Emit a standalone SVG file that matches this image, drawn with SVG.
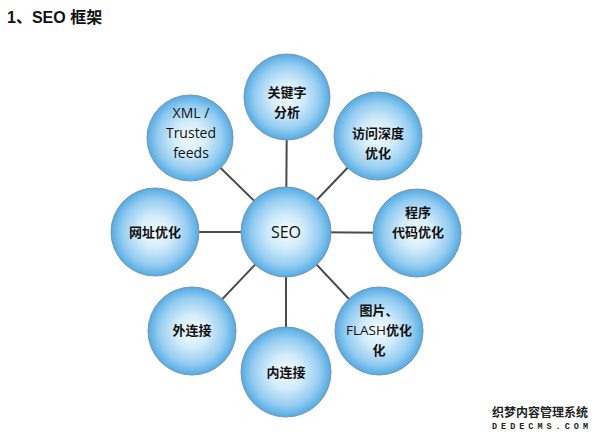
<svg xmlns="http://www.w3.org/2000/svg" width="600" height="440" viewBox="0 0 600 440">
  <defs>
    <radialGradient id="ball" cx="50%" cy="50%" r="50%">
      <stop offset="0" stop-color="#f4fbff"/>
      <stop offset="0.38" stop-color="#d2ecfa"/>
      <stop offset="0.75" stop-color="#95cdf1"/>
      <stop offset="0.93" stop-color="#66b5e8"/>
      <stop offset="1" stop-color="#56a9e2"/>
    </radialGradient>
  </defs>
  <style>
    .ball { fill: url(#ball); stroke: #7396b0; stroke-width: 1; }
    .conn line { stroke: #4a4a4a; stroke-width: 2; }
    .zh { font-family: "Noto Sans CJK SC", "Noto Sans CJK JP", sans-serif; font-weight: bold; font-size: 13px; fill: #111; text-anchor: middle; }
    .en { font-family: "Open Sans", "Liberation Sans", sans-serif; font-size: 14px; fill: #111; text-anchor: middle; }
    .lat { font-family: "Open Sans", "Liberation Sans", sans-serif; font-weight: normal; }
    .title { font-family: "Liberation Sans", "Noto Sans CJK SC", sans-serif; font-weight: bold; font-size: 16px; fill: #111; }
  </style>
  <rect width="600" height="440" fill="#ffffff"/>
  <text class="title" x="7" y="23">1、SEO 框架</text>

  <g id="connectors" class="conn">
    <line x1="286" y1="232" x2="287" y2="97"/>
    <line x1="286" y1="232" x2="378" y2="136"/>
    <line x1="286" y1="232" x2="417" y2="233"/>
    <line x1="286" y1="232" x2="379" y2="331"/>
    <line x1="286" y1="232" x2="286" y2="372"/>
    <line x1="286" y1="232" x2="192" y2="331"/>
    <line x1="286" y1="232" x2="155" y2="232"/>
    <line x1="286" y1="232" x2="190" y2="138"/>
  </g>

  <g id="node-seo">
    <circle class="ball" cx="286" cy="232" r="45"/>
    <text class="en" x="286" y="238" style="font-size:16px">SEO</text>
  </g>
  <g id="node-keyword">
    <circle class="ball" cx="287" cy="97" r="43"/>
    <text class="zh" x="287" y="97">关键字</text>
    <text class="zh" x="287" y="117">分析</text>
  </g>
  <g id="node-depth">
    <circle class="ball" cx="378" cy="136" r="44"/>
    <text class="zh" x="378" y="138">访问深度</text>
    <text class="zh" x="378" y="158">优化</text>
  </g>
  <g id="node-code">
    <circle class="ball" cx="417" cy="233" r="44"/>
    <text class="zh" x="418" y="217">程序</text>
    <text class="zh" x="418" y="237">代码优化</text>
  </g>
  <g id="node-flash">
    <circle class="ball" cx="379" cy="331" r="44"/>
    <text class="zh" x="379" y="315">图片、</text>
    <text class="zh" x="379" y="335"><tspan class="lat" style="font-size:13.5px">FLASH</tspan>优化</text>
    <text class="zh" x="379" y="355">化</text>
  </g>
  <g id="node-inner">
    <circle class="ball" cx="286" cy="372" r="45"/>
    <text class="zh" x="286" y="377">内连接</text>
  </g>
  <g id="node-outer">
    <circle class="ball" cx="192" cy="331" r="44"/>
    <text class="zh" x="192" y="335">外连接</text>
  </g>
  <g id="node-url">
    <circle class="ball" cx="155" cy="232" r="44"/>
    <text class="zh" x="155" y="237">网址优化</text>
  </g>
  <g id="node-xml">
    <circle class="ball" cx="190" cy="138" r="43"/>
    <text class="en" x="191" y="118">XML /</text>
    <text class="en" x="191" y="138">Trusted</text>
    <text class="en" x="191" y="158">feeds</text>
  </g>

  <text x="492" y="417" textLength="96" lengthAdjust="spacingAndGlyphs" style="font-family:'Noto Sans CJK SC',sans-serif;font-weight:bold;font-size:12px;fill:#222">织梦内容管理系统</text>
  <text x="492" y="429" textLength="96" lengthAdjust="spacing" style="font-family:'Liberation Mono',monospace;font-weight:bold;font-size:8.5px;fill:#222">DEDECMS.COM</text>
</svg>
